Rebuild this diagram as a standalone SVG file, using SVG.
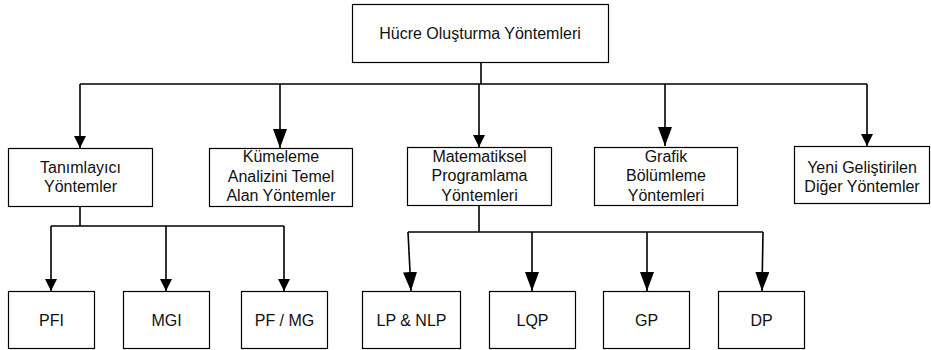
<svg xmlns="http://www.w3.org/2000/svg" width="931" height="350" viewBox="0 0 931 350">
<defs>
<style>
.box{fill:#fff;stroke:#000;stroke-width:1.2}
.t{font-family:"Liberation Sans",Arial,sans-serif;font-size:16px;fill:#111;text-anchor:middle}
.c{fill:none;stroke:#000;stroke-width:1.6}
.as{marker-end:url(#ah-s)}
.al{marker-end:url(#ah-l)}
</style>
<marker id="ah-s" markerUnits="userSpaceOnUse" markerWidth="12" markerHeight="12" refX="12" refY="6" orient="auto" viewBox="0 0 12 12"><path d="M0,0 L12,6 L0,12 z" fill="#000"/></marker>
<marker id="ah-l" markerUnits="userSpaceOnUse" markerWidth="19" markerHeight="14" refX="19" refY="7" orient="auto" viewBox="0 0 19 14"><path d="M0,0 L19,7 L0,14 z" fill="#000"/></marker>
</defs>
<rect width="931" height="350" fill="#fff"/>
<g id="connectors">
<path class="c" d="M481,62 V84"/>
<path class="c" d="M80,84 H867"/>
<path class="c as" d="M80,84 V148"/>
<path class="c al" d="M280,84 V148"/>
<path class="c as" d="M479,84 V147"/>
<path class="c al" d="M665,84 V146"/>
<path class="c as" d="M867,84 V146"/>
<path class="c" d="M80,206 V226"/>
<path class="c" d="M51,226 H284"/>
<path class="c as" d="M51,226 V291"/>
<path class="c as" d="M166,226 V291"/>
<path class="c as" d="M284,226 V291"/>
<path class="c" d="M479,205 V232"/>
<path class="c" d="M408,232 H763"/>
<path class="c al" d="M408,232 L411,291"/>
<path class="c al" d="M532,232 V291"/>
<path class="c al" d="M647,232 V291"/>
<path class="c al" d="M763,232 L762,291"/>
</g>
<g id="n-root"><rect class="box" x="352.5" y="4.5" width="256" height="58"/><text class="t" x="480" y="39">Hücre Oluşturma Yöntemleri</text></g>
<g id="n-tanim"><rect class="box" x="8.5" y="148.5" width="144" height="58"/><text class="t" x="80.5" y="173">Tanımlayıcı</text><text class="t" x="80.5" y="192">Yöntemler</text></g>
<g id="n-kume"><rect class="box" x="209.5" y="148.5" width="143" height="58"/><text class="t" x="281" y="162">Kümeleme</text><text class="t" x="281" y="181.5">Analizini Temel</text><text class="t" x="281" y="201">Alan Yöntemler</text></g>
<g id="n-mat"><rect class="box" x="407.5" y="147.5" width="144" height="58"/><text class="t" x="479.5" y="161.5">Matematiksel</text><text class="t" x="479.5" y="181">Programlama</text><text class="t" x="479.5" y="200.5">Yöntemleri</text></g>
<g id="n-grafik"><rect class="box" x="594.5" y="147.5" width="143" height="58"/><text class="t" x="666" y="161.5">Grafik</text><text class="t" x="666" y="181">Bölümleme</text><text class="t" x="666" y="200.5">Yöntemleri</text></g>
<g id="n-yeni"><rect class="box" x="794.5" y="146.5" width="135" height="57"/><text class="t" x="862" y="173">Yeni Geliştirilen</text><text class="t" x="862" y="191.5">Diğer Yöntemler</text></g>
<g id="n-pfi"><rect class="box" x="8.5" y="291.5" width="86" height="57"/><text class="t" x="51.5" y="325.5">PFI</text></g>
<g id="n-mgi"><rect class="box" x="123.5" y="291.5" width="86" height="57"/><text class="t" x="166.5" y="325.5">MGI</text></g>
<g id="n-pfmg"><rect class="box" x="241.5" y="291.5" width="86" height="57"/><text class="t" x="284.5" y="325.5">PF / MG</text></g>
<g id="n-lp"><rect class="box" x="362.5" y="291.5" width="98" height="57"/><text class="t" x="411.5" y="325.5">LP &amp; NLP</text></g>
<g id="n-lqp"><rect class="box" x="489.5" y="291.5" width="86" height="57"/><text class="t" x="532.5" y="325.5">LQP</text></g>
<g id="n-gp"><rect class="box" x="603.5" y="291.5" width="86" height="57"/><text class="t" x="646.5" y="325.5">GP</text></g>
<g id="n-dp"><rect class="box" x="718.5" y="291.5" width="86" height="57"/><text class="t" x="761.5" y="325.5">DP</text></g>
</svg>
